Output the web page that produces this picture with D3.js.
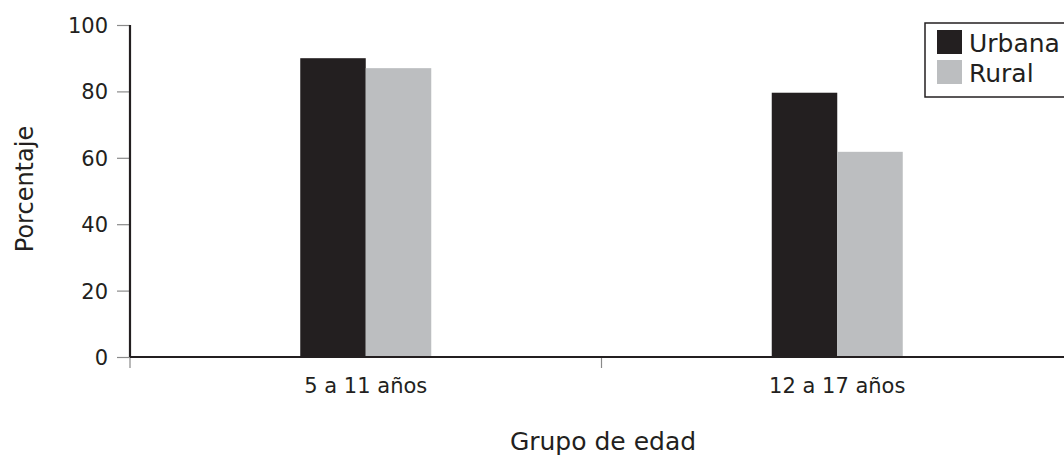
<!DOCTYPE html>
<html><head><meta charset="utf-8">
<script src="https://cdn.jsdelivr.net/npm/d3@7"></script>
<style>
html,body{margin:0;padding:0;background:#fff;}
svg{display:block;}
text{font-family:"DejaVu Sans",sans-serif;fill:#231f20;}
</style></head>
<body><svg id="c" width="1064" height="455"></svg>
<script>
const categories = ["5 a 11 años", "12 a 17 años"];
const series = ["Urbana", "Rural"];
const urbana = [90, 79.6];
const rural = [87, 61.8];
const yTicks = [0, 20, 40, 60, 80, 100];
const colors = ["#231f20", "#bcbec0"];

const svg = d3.select("#c");
const x = d3.scaleBand().domain(categories).range([130, 1073]).padding(0);
const y = d3.scaleLinear().domain([0, 100]).range([357, 25]);
const bw = 65.5;
const x1 = d3.scaleBand().domain(series)
  .range([x.bandwidth() / 2 - bw, x.bandwidth() / 2 + bw]).padding(0);
const color = d3.scaleOrdinal().domain(series).range(colors);

const rows = categories.map((c, i) => ({cat: c, vals: [
  {s: "Urbana", v: urbana[i]}, {s: "Rural", v: rural[i]}]}));

// bars
const g = svg.append("g");
g.selectAll("g.grp").data(rows).join("g")
  .attr("transform", d => `translate(${x(d.cat)},0)`)
  .selectAll("rect").data(d => d.vals).join("rect")
  .attr("x", d => x1(d.s))
  .attr("width", x1.bandwidth())
  .attr("y", d => y(d.v))
  .attr("height", d => y(0) - y(d.v))
  .attr("fill", d => color(d.s));

// y axis
const ya = svg.append("g").attr("transform", "translate(130,0)")
  .call(d3.axisLeft(y).tickValues(yTicks).tickSize(13).tickSizeOuter(0).tickPadding(9));
ya.select(".domain").remove();
ya.selectAll(".tick line").attr("stroke", "#8a8a8a").attr("stroke-width", 1.2);
ya.selectAll(".tick text").attr("font-size", null).style("font-size", "21px")
  .attr("dy", "0.36em").style("fill", "#231f20").style("font-family", "DejaVu Sans");
svg.append("line").attr("x1", 130).attr("x2", 130).attr("y1", y(100)).attr("y2", y(0))
  .attr("stroke", "#231f20").attr("stroke-width", 2.2);

// x axis
const xa = svg.append("g").attr("transform", `translate(0,${y(0)})`)
  .call(d3.axisBottom(x).tickSize(0).tickPadding(0));
xa.select(".domain").remove();
xa.selectAll(".tick text").style("font-size", "21px").attr("y", 36).attr("dy", 0)
  .style("fill", "#231f20").style("font-family", "DejaVu Sans");
const bounds = categories.map(c => x(c)).concat([x.range()[1] - 1]);
svg.append("g").selectAll("line").data(bounds).join("line")
  .attr("x1", d => d).attr("x2", d => d).attr("y1", y(0)).attr("y2", y(0) + 11)
  .attr("stroke", "#8a8a8a").attr("stroke-width", 1.2);
svg.append("line").attr("x1", 130).attr("x2", 1073).attr("y1", y(0)).attr("y2", y(0))
  .attr("stroke", "#231f20").attr("stroke-width", 2.2);

// axis titles
svg.append("text").attr("x", 603).attr("y", 450).attr("text-anchor", "middle")
  .style("font-size", "25px").text("Grupo de edad");
svg.append("text").attr("transform", "translate(33,189) rotate(-90)").attr("text-anchor", "middle")
  .style("font-size", "24px").text("Porcentaje");

// legend
const lg = svg.append("g");
lg.append("rect").attr("x", 925).attr("y", 23).attr("width", 160).attr("height", 74)
  .attr("fill", "#fff").attr("stroke", "#231f20").attr("stroke-width", 1.5);
series.forEach((s, i) => {
  lg.append("rect").attr("x", 937).attr("y", 30 + i * 30).attr("width", 25).attr("height", 24)
    .attr("fill", color(s));
  lg.append("text").attr("x", 969).attr("y", 52 + i * 30).style("font-size", "25px").text(s);
});
</script></body></html>
